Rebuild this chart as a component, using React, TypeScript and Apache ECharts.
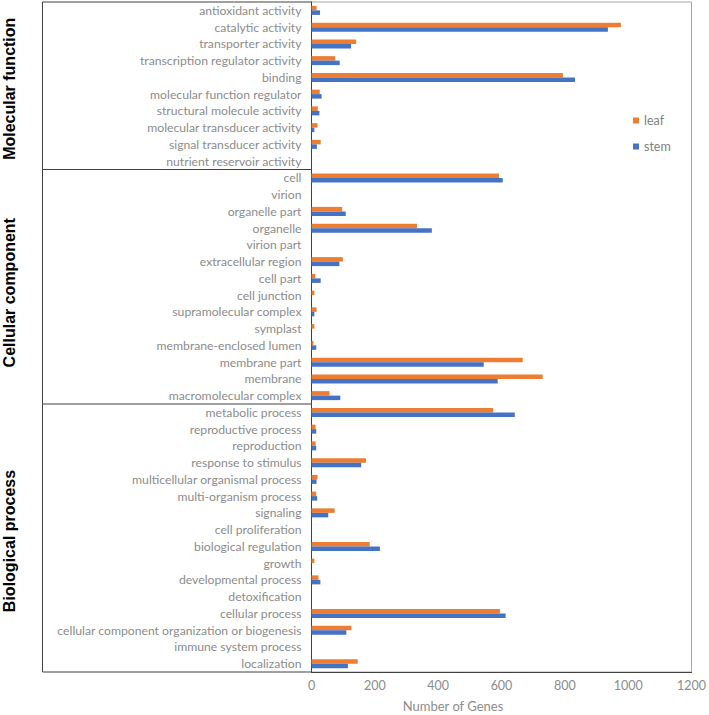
import React, { useEffect, useRef } from "react";
import * as echarts from "echarts";

const categories = [
  "antioxidant activity", "catalytic activity", "transporter activity", "transcription regulator activity",
  "binding", "molecular function regulator", "structural molecule activity", "molecular transducer activity",
  "signal transducer activity", "nutrient reservoir activity",
  "cell", "virion", "organelle part", "organelle", "virion part", "extracellular region", "cell part",
  "cell junction", "supramolecular complex", "symplast", "membrane-enclosed lumen", "membrane part",
  "membrane", "macromolecular complex",
  "metabolic process", "reproductive process", "reproduction", "response to stimulus",
  "multicellular organismal process", "multi-organism process", "signaling", "cell proliferation",
  "biological regulation", "growth", "developmental process", "detoxification", "cellular process",
  "cellular component organization or biogenesis", "immune system process", "localization",
];

const leaf = [
  16, 977, 141, 75, 794, 26, 20, 19, 29, 0,
  592, 0, 97, 333, 0, 99, 12, 9, 16, 9, 6, 667, 730, 57,
  574, 13, 13, 172, 19, 15, 73, 0, 184, 9, 22, 0, 595, 126, 0, 146,
];

const stem = [
  27, 936, 125, 89, 832, 32, 25, 9, 17, 0,
  604, 0, 108, 380, 0, 88, 29, 0, 9, 0, 15, 544, 588, 91,
  642, 15, 15, 157, 16, 18, 53, 0, 216, 0, 28, 0, 613, 110, 0, 115,
];

const groups = ["Molecular function", "Cellular component", "Biological process"];
const groupSizes = [10, 14, 16];
const xTicks = { min: 0, max: 1200, interval: 200 };

export default function App() {
  const ref = useRef<HTMLDivElement>(null);
  useEffect(() => {
    if (!ref.current) return;
    const chart = echarts.init(ref.current, undefined, { renderer: "svg" });
    const W = 709, H = 715;
    const gl = 311.5, gr = 695, gt = 2, gb = 672;
    const frameLeft = 42.5;
    const band = (gb - gt) / categories.length;
    const graphics: any[] = [];
    const dark = "#404040";
    const labelFont = "Lato, 'Noto Sans', sans-serif";
    graphics.push({ type: "line", shape: { x1: frameLeft, y1: gt, x2: frameLeft, y2: gb }, style: { stroke: dark, lineWidth: 1 } });
    graphics.push({ type: "line", shape: { x1: frameLeft, y1: gt, x2: gl, y2: gt }, style: { stroke: dark, lineWidth: 1 } });
    graphics.push({ type: "line", shape: { x1: frameLeft, y1: gb, x2: gl, y2: gb }, style: { stroke: dark, lineWidth: 1 } });
    let acc = 0;
    groups.forEach((g, i) => {
      const start = gt + acc * band;
      acc += groupSizes[i];
      const end = gt + acc * band;
      if (i < groups.length - 1) {
        graphics.push({ type: "line", shape: { x1: frameLeft, y1: end, x2: gl, y2: end }, style: { stroke: dark, lineWidth: 1 } });
      }
      graphics.push({
        type: "text",
        x: 9,
        y: (start + end) / 2 + (i === 1 ? 6 : 3),
        rotation: Math.PI / 2,
        style: {
          text: g,
          fill: "#000",
          font: "bold 16px 'Liberation Sans', Arial, sans-serif",
          align: "center",
          verticalAlign: "middle",
        },
      });
    });
    graphics.push({
      type: "text",
      x: 453,
      y: 706,
      style: {
        text: "Number of Genes",
        fill: "#8c8c8c",
        font: "13px Lato, 'Noto Sans', sans-serif",
        align: "center",
        verticalAlign: "middle",
      },
    });

    chart.setOption({
      animation: false,
      backgroundColor: "#fff",
      grid: {
        left: gl, right: W - gr, top: gt, bottom: H - gb,
        show: true, borderColor: "#a6a6a6", borderWidth: 1,
      },
      legend: {
        orient: "vertical",
        left: 628,
        top: 109,
        itemWidth: 6,
        itemHeight: 6,
        itemGap: 13,
        icon: "rect",
        textStyle: { color: "#7f7f7f", fontSize: 12.5, fontFamily: labelFont },
        data: ["leaf", "stem"],
      },
      xAxis: {
        type: "value",
        min: xTicks.min,
        max: xTicks.max,
        interval: xTicks.interval,
        splitLine: { show: false },
        axisTick: { show: false },
        axisLine: { show: true, lineStyle: { color: dark } },
        axisLabel: {
          color: "#8c8c8c", fontSize: 12.5, margin: 7, fontFamily: labelFont,
          formatter: (v: number) => String(v),
        },
      },
      yAxis: {
        type: "category",
        inverse: true,
        data: categories,
        axisTick: { show: false },
        axisLine: { show: true, lineStyle: { color: dark } },
        axisLabel: { interval: 0, color: "#8c8c8c", fontSize: 12.2, margin: 10, fontFamily: labelFont },
      },
      series: [
        { name: "leaf", type: "bar", data: leaf, barWidth: 4.5, barGap: "0%", itemStyle: { color: "#ED7D31" } },
        { name: "stem", type: "bar", data: stem, barWidth: 4.5, barGap: "0%", itemStyle: { color: "#4472C4" } },
      ],
      graphic: graphics,
    });
    return () => chart.dispose();
  }, []);
  return <div ref={ref} style={{ position: "fixed", left: 0, top: 0, width: 709, height: 715 }} />;
}
